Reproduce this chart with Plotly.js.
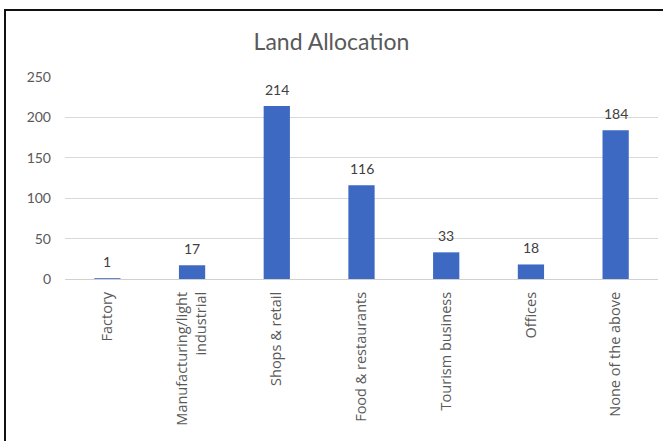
<!DOCTYPE html>
<html>
<head>
<meta charset="utf-8">
<script src="https://cdn.plot.ly/plotly-3.0.1.min.js"></script>
<style>
html,body{margin:0;padding:0;background:#fff;overflow:hidden;}
#frame{position:absolute;left:4px;top:9px;width:700px;height:500px;border:2px solid #111;box-sizing:border-box;}
#chart{position:absolute;left:0;top:0;width:663px;height:441px;}
</style>
</head>
<body>
<div id="frame"></div>
<div id="chart"></div>
<script>
const categories = ["Factory", "Manufacturing/light<br>industrial", "Shops & retail", "Food & restaurants", "Tourism business", "Offices", "None of the above"];
const values = [1, 17, 214, 116, 33, 18, 184];
const yTicks = [0, 50, 100, 150, 200, 250];

const trace = {
  type: 'bar',
  x: categories,
  y: values,
  cliponaxis: false,
  marker: {color: '#3d69c2'},
  hoverinfo: 'none'
};

const annotations = categories.map((c, i) => ({
  x: c, y: values[i], xref: 'x', yref: 'y',
  text: String(values[i]), showarrow: false,
  yanchor: 'bottom', yshift: 6,
  font: {family: 'Lato, sans-serif', size: 14, color: '#404040'}
}));

const layout = {
  width: 663, height: 441,
  margin: {l: 65, r: 5, t: 77, b: 162},
  paper_bgcolor: 'rgba(0,0,0,0)',
  plot_bgcolor: 'rgba(0,0,0,0)',
  bargap: 0.69,
  showlegend: false,
  annotations: annotations,
  title: {text: 'Land Allocation', x: 0.5, xanchor: 'center', y: 0.905, yanchor: 'middle',
          font: {family: 'Lato, sans-serif', size: 23, color: '#595959'}},
  xaxis: {
    tickangle: -90,
    tickfont: {family: 'Open Sans, sans-serif', size: 14.5, color: '#595959'},
    showline: false, showgrid: false, ticks: '',
    ticklabelstandoff: 9
  },
  yaxis: {
    range: [0, 250],
    tickvals: yTicks,
    tickfont: {family: 'Lato, sans-serif', size: 14, color: '#595959'},
    gridcolor: '#d9d9d9', gridwidth: 1,
    zeroline: true, zerolinecolor: '#d0d0d0', zerolinewidth: 1,
    showline: false, ticks: '',
    ticklabelstandoff: 13
  }
};

Plotly.newPlot('chart', [trace], layout, {displayModeBar: false, staticPlot: true});
</script>
</body>
</html>
